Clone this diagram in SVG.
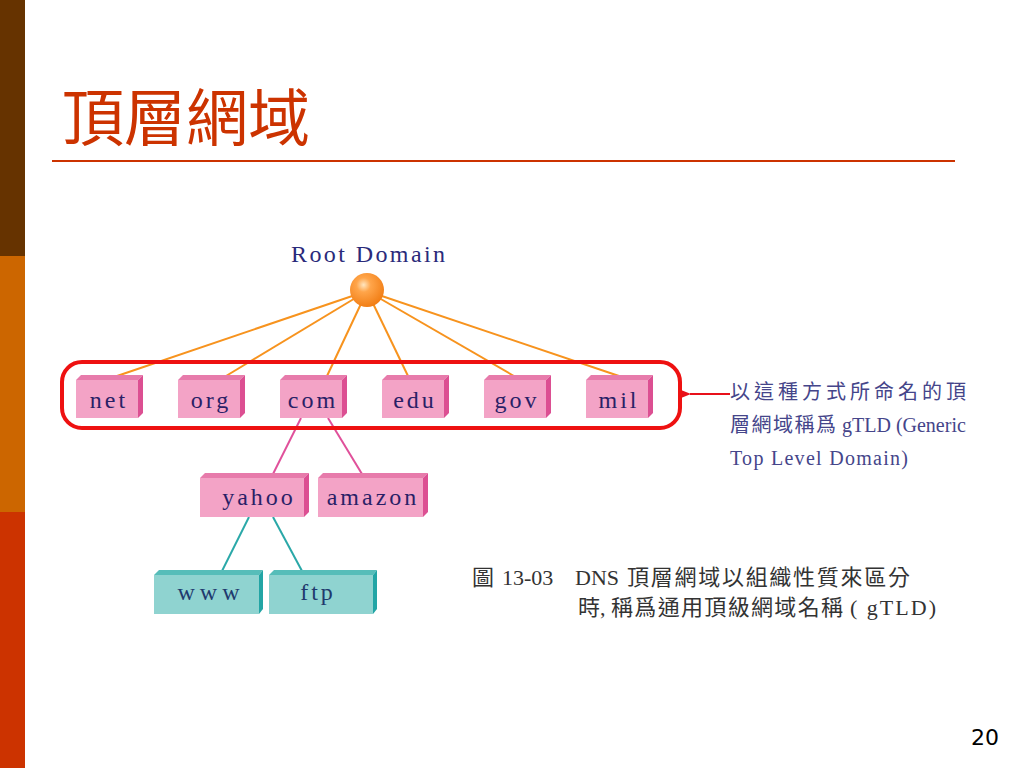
<svg xmlns="http://www.w3.org/2000/svg" width="1024" height="768" viewBox="0 0 1024 768">
<defs>
<radialGradient id="ball" cx="0.4" cy="0.35" r="0.7">
<stop offset="0" stop-color="#ffe6c0"/>
<stop offset="0.3" stop-color="#ffa54a"/>
<stop offset="1" stop-color="#f07a10"/>
</radialGradient>
<marker id="arr" viewBox="0 0 10 10" refX="1" refY="5" markerWidth="5" markerHeight="5" orient="auto">
<path d="M10,1 L0,5 L10,9 z" fill="#e8101a"/>
</marker>
</defs>
<style>
.lbl{font-family:"Liberation Serif","Noto Sans CJK TC",serif;font-size:24px;fill:#2a1f66;letter-spacing:3px;text-anchor:middle}
.pf{fill:#f3a3c6}.pt{fill:#e77bab}.ps{fill:#dc4f92}
.tf{fill:#8fd3d0}.tt{fill:#56bdb9}.ts{fill:#22a5a5}
.note{font-family:"Liberation Serif","Noto Sans CJK TC",serif;font-size:20px;fill:#45458a}
.cap{font-family:"Liberation Serif","Noto Sans CJK TC",serif;font-size:22px;fill:#333333}
</style>
<rect x="0" y="0" width="1024" height="768" fill="#ffffff"/>
<rect x="0" y="0" width="25" height="256" fill="#663300"/>
<rect x="0" y="256" width="25" height="256" fill="#cc6600"/>
<rect x="0" y="512" width="25" height="256" fill="#cc3300"/>
<text x="62" y="141" font-family="'Noto Sans CJK TC',sans-serif" font-size="62" fill="#cc3300">頂層網域</text>
<line x1="52" y1="161" x2="955" y2="161" stroke="#cc3300" stroke-width="2"/>
<g id="connectors">
<g stroke="#f7931e" stroke-width="2">
<line x1="367" y1="291" x2="117" y2="376"/>
<line x1="367" y1="291" x2="226" y2="376"/>
<line x1="367" y1="291" x2="327" y2="376"/>
<line x1="367" y1="291" x2="408" y2="376"/>
<line x1="367" y1="291" x2="514" y2="376"/>
<line x1="367" y1="291" x2="619" y2="376"/>
</g>
<g stroke="#e0509a" stroke-width="2">
<line x1="301" y1="418" x2="273" y2="474"/>
<line x1="328" y1="418" x2="362" y2="474"/>
</g>
<g stroke="#2aa8a8" stroke-width="2">
<line x1="249" y1="517" x2="222" y2="571"/>
<line x1="273" y1="517" x2="302" y2="571"/>
</g>
<line x1="730" y1="394" x2="690" y2="394" stroke="#e8101a" stroke-width="2" marker-end="url(#arr)"/>
</g>
<g id="root">
<text x="291" y="262" font-family="'Liberation Serif',serif" font-size="24" fill="#2a2a7a" textLength="154" lengthAdjust="spacing">Root Domain</text>
<circle cx="367" cy="290" r="17" fill="url(#ball)"/>
</g>
<g id="gtld-group">
<rect x="62" y="362" width="618" height="66" rx="20" fill="none" stroke="#ee1111" stroke-width="4"/>
</g>
<g id="net">
<polygon class="pt" points="76,380 81,375 143,375 138,380"/><polygon class="ps" points="138,380 143,375 143,413 138,418"/><rect class="pf" x="76" y="380" width="62" height="38"/>
<text class="lbl" x="109" y="408">net</text></g>
<g id="org">
<polygon class="pt" points="178,380 183,375 245,375 240,380"/><polygon class="ps" points="240,380 245,375 245,413 240,418"/><rect class="pf" x="178" y="380" width="62" height="38"/>
<text class="lbl" x="211" y="408">org</text></g>
<g id="com">
<polygon class="pt" points="280,380 285,375 347,375 342,380"/><polygon class="ps" points="342,380 347,375 347,413 342,418"/><rect class="pf" x="280" y="380" width="62" height="38"/>
<text class="lbl" x="313" y="408">com</text></g>
<g id="edu">
<polygon class="pt" points="382,380 387,375 449,375 444,380"/><polygon class="ps" points="444,380 449,375 449,413 444,418"/><rect class="pf" x="382" y="380" width="62" height="38"/>
<text class="lbl" x="415" y="408">edu</text></g>
<g id="gov">
<polygon class="pt" points="484,380 489,375 551,375 546,380"/><polygon class="ps" points="546,380 551,375 551,413 546,418"/><rect class="pf" x="484" y="380" width="62" height="38"/>
<text class="lbl" x="517" y="408">gov</text></g>
<g id="mil">
<polygon class="pt" points="586,380 591,375 653,375 648,380"/><polygon class="ps" points="648,380 653,375 653,413 648,418"/><rect class="pf" x="586" y="380" width="62" height="38"/>
<text class="lbl" x="619" y="408">mil</text></g>
<g id="yahoo">
<polygon class="pt" points="200,478 205,473 309,473 304,478"/><polygon class="ps" points="304,478 309,473 309,512 304,517"/><rect class="pf" x="200" y="478" width="104" height="39"/>
<text class="lbl" x="259" y="505">yahoo</text></g>
<g id="amazon">
<polygon class="pt" points="318,478 323,473 428,473 423,478"/><polygon class="ps" points="423,478 428,473 428,512 423,517"/><rect class="pf" x="318" y="478" width="105" height="39"/>
<text class="lbl" x="373" y="505">amazon</text></g>
<g id="www">
<polygon class="tt" points="154,575 159,570 263,570 259,575"/><polygon class="ts" points="259,575 263,570 263,609 259,614"/><rect class="tf" x="154" y="575" width="105" height="39"/>
<text class="lbl" x="211" y="600" style="fill:#1f3a6e;letter-spacing:5px">www</text></g>
<g id="ftp">
<polygon class="tt" points="269,575 274,570 377,570 373,575"/><polygon class="ts" points="373,575 377,570 377,609 373,614"/><rect class="tf" x="269" y="575" width="104" height="39"/>
<text class="lbl" x="318" y="600" style="fill:#1f3a6e">ftp</text></g>
<g id="note">
<text class="note" x="730" y="399" textLength="236" lengthAdjust="spacing">以這種方式所命名的頂</text>
<text class="note" y="432"><tspan x="730" textLength="106" lengthAdjust="spacing">層網域稱爲</tspan><tspan x="842">gTLD (Generic</tspan></text>
<text class="note" x="730" y="465" textLength="178" lengthAdjust="spacing">Top Level Domain)</text>
</g>
<g id="caption">
<text class="cap" y="585"><tspan x="472">圖</tspan><tspan x="502">13-03</tspan><tspan x="575">DNS</tspan><tspan x="627" textLength="283" lengthAdjust="spacing">頂層網域以組織性質來區分</tspan></text>
<text class="cap" y="615"><tspan x="578">時,</tspan><tspan x="611" textLength="232" lengthAdjust="spacing">稱爲通用頂級網域名稱</tspan><tspan x="850" textLength="86" lengthAdjust="spacing">( gTLD)</tspan></text>
</g>
<text x="985" y="745" font-family="'DejaVu Sans',sans-serif" font-size="22" fill="#000" text-anchor="middle">20</text>
</svg>
